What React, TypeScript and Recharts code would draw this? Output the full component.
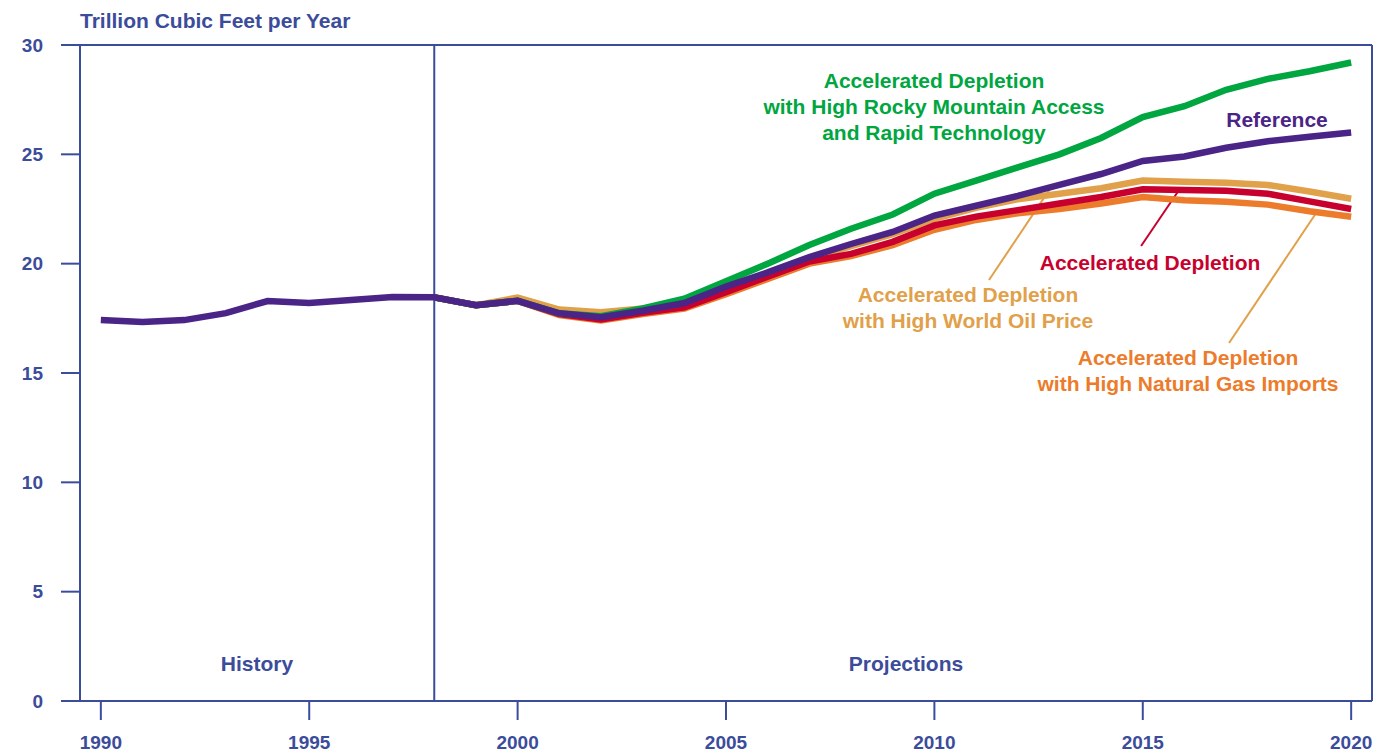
import { LineChart, Line, XAxis, YAxis, ReferenceLine } from 'recharts';

const years = Array.from({ length: 31 }, (_, i) => 1990 + i);

// history 1990-1998 + reference projection
const reference = [
  17.42, 17.33, 17.42, 17.74, 18.29, 18.2, 18.34, 18.48, 18.46,
  18.1, 18.3, 17.73, 17.55, 17.85, 18.2, 18.95, 19.6, 20.3, 20.9, 21.45,
  22.2, 22.65, 23.1, 23.6, 24.1, 24.7, 24.9, 25.3, 25.6, 25.8, 26.0,
];
// projection cases, 1998-2020
const rockyMtn = [
  18.46, 18.1, 18.3, 17.73, 17.6, 17.95, 18.4, 19.2, 20.0, 20.85, 21.6, 22.25,
  23.2, 23.8, 24.4, 25.0, 25.75, 26.7, 27.2, 27.95, 28.45, 28.8, 29.2,
];
const highOil = [
  18.46, 18.1, 18.45, 17.9, 17.78, 17.95, 18.15, 18.85, 19.5, 20.2, 20.8, 21.35,
  22.05, 22.55, 22.95, 23.2, 23.45, 23.8, 23.75, 23.7, 23.6, 23.3, 22.97,
];
const accelerated = [
  18.46, 18.1, 18.3, 17.7, 17.45, 17.75, 18.0, 18.7, 19.4, 20.1, 20.45, 21.0,
  21.75, 22.15, 22.45, 22.75, 23.05, 23.4, 23.37, 23.33, 23.2, 22.85, 22.5,
];
const highImports = [
  18.46, 18.1, 18.3, 17.65, 17.4, 17.7, 17.95, 18.6, 19.3, 20.0, 20.35, 20.85,
  21.55, 22.0, 22.3, 22.5, 22.75, 23.05, 22.9, 22.83, 22.7, 22.4, 22.15,
];

const xTicks = [1990, 1995, 2000, 2005, 2010, 2015, 2020];
const yTicks = [0, 5, 10, 15, 20, 25, 30];

const proj = (arr: number[], i: number) => (i >= 8 ? arr[i - 8] : null);
const data = years.map((year, i) => ({
  year,
  reference: reference[i],
  rockyMtn: proj(rockyMtn, i),
  highOil: proj(highOil, i),
  accelerated: proj(accelerated, i),
  highImports: proj(highImports, i),
}));

const AXIS = '#3b4c9b';
const PURPLE = '#4a2487';
const GREEN = '#00a640';
const RED = '#c8002e';
const LIGHT_ORANGE = '#e1a04a';
const DARK_ORANGE = '#ec7c2b';

const FONT = 'Liberation Sans, Arial, sans-serif';
const tickFont = { fontFamily: FONT, fontSize: 19, fontWeight: 700, fill: AXIS };

function Note({ x, y, color, lines }: { x: number; y: number; color: string; lines: string[] }) {
  return (
    <div
      style={{
        position: 'absolute', left: x, top: y, transform: 'translate(-50%, 0)',
        color, fontFamily: FONT, fontWeight: 700, fontSize: 21,
        lineHeight: '26px', textAlign: 'center', whiteSpace: 'nowrap',
      }}
    >
      {lines.map((l) => <div key={l}>{l}</div>)}
    </div>
  );
}

export default function App() {
  return (
    <div style={{ position: 'relative', width: 1386, height: 754 }}>
      <style>{'body{margin:0}'}</style>
      <LineChart width={1386} height={754} data={data} margin={{ top: 45, right: 14, bottom: 0, left: 0 }}>
        <XAxis
          dataKey="year" type="number" domain={[1989.5, 2020.5]} ticks={xTicks} allowDataOverflow
          height={53} tickSize={19} tickMargin={16} tick={tickFont}
          stroke={AXIS} strokeWidth={2}
        />
        <YAxis
          type="number" domain={[0, 30]} ticks={yTicks} width={80} tickSize={19} tickMargin={18}
          tick={tickFont} stroke={AXIS} strokeWidth={2}
        />
        <ReferenceLine y={30} stroke={AXIS} strokeWidth={2} />
        <ReferenceLine x={2020.5} stroke={AXIS} strokeWidth={2} />
        <ReferenceLine x={1998} stroke={AXIS} strokeWidth={2} />
        <ReferenceLine segment={[{ x: 2014.96, y: 20.81 }, { x: 2015.87, y: 23.37 }]} stroke={RED} strokeWidth={2} />
        <ReferenceLine segment={[{ x: 2011.31, y: 19.25 }, { x: 2012.77, y: 23.41 }]} stroke={LIGHT_ORANGE} strokeWidth={2} />
        <ReferenceLine segment={[{ x: 2017.07, y: 16.37 }, { x: 2019.16, y: 22.32 }]} stroke={LIGHT_ORANGE} strokeWidth={2} />
        <Line dataKey="highImports" stroke={DARK_ORANGE} strokeWidth={6.5} dot={false} isAnimationActive={false} />
        <Line dataKey="highOil" stroke={LIGHT_ORANGE} strokeWidth={6.5} dot={false} isAnimationActive={false} />
        <Line dataKey="accelerated" stroke={RED} strokeWidth={6.5} dot={false} isAnimationActive={false} />
        <Line dataKey="rockyMtn" stroke={GREEN} strokeWidth={6.5} dot={false} isAnimationActive={false} />
        <Line dataKey="reference" stroke={PURPLE} strokeWidth={6.5} dot={false} isAnimationActive={false} />
      </LineChart>
      <div style={{ position: 'absolute', left: 80, top: 9, color: AXIS, fontFamily: FONT, fontWeight: 700, fontSize: 21 }}>
        Trillion Cubic Feet per Year
      </div>
      <Note x={934} y={68} color={GREEN} lines={['Accelerated Depletion', 'with High Rocky Mountain Access', 'and Rapid Technology']} />
      <Note x={1277} y={107} color={PURPLE} lines={['Reference']} />
      <Note x={1150} y={250} color={RED} lines={['Accelerated Depletion']} />
      <Note x={968} y={282} color={LIGHT_ORANGE} lines={['Accelerated Depletion', 'with High World Oil Price']} />
      <Note x={1188} y={345} color={DARK_ORANGE} lines={['Accelerated Depletion', 'with High Natural Gas Imports']} />
      <Note x={257} y={651} color={AXIS} lines={['History']} />
      <Note x={906} y={651} color={AXIS} lines={['Projections']} />
    </div>
  );
}
